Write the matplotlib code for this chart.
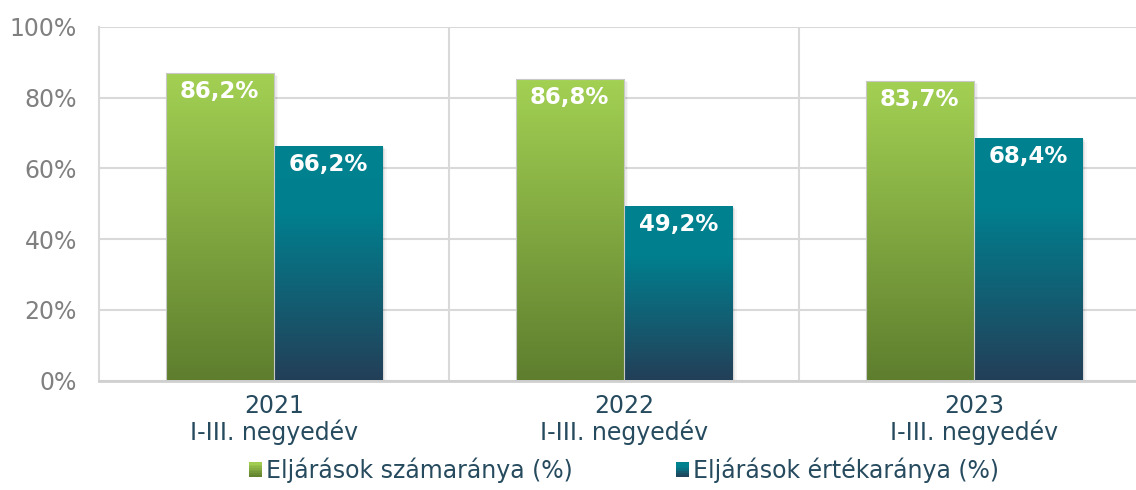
import numpy as np
import matplotlib
matplotlib.use("Agg")
import matplotlib.pyplot as plt
from matplotlib.patches import Rectangle
from matplotlib.colors import LinearSegmentedColormap
from matplotlib.legend_handler import HandlerBase

categories = ["2021\nI-III. negyedév", "2022\nI-III. negyedév", "2023\nI-III. negyedév"]
series_names = ["Eljárások számaránya (%)", "Eljárások értékaránya (%)"]
# bar heights as drawn in the picture
szamarany = [87.0, 85.2, 84.8]
ertekarany = [66.3, 49.3, 68.5]
# labels as printed on the bars
value_labels = [["86,2%", "86,8%", "83,7%"], ["66,2%", "49,2%", "68,4%"]]
yticks = [0, 20, 40, 60, 80, 100]
ytick_labels = ["0%", "20%", "40%", "60%", "80%", "100%"]

plt.rcParams['font.family'] = ['DejaVu Sans']

green_stops = [(0.0, "#5e7e2e"), (1.0, "#a3d153")]
teal_stops = [(0.0, "#233f58"), (0.72, "#00808f"), (1.0, "#00828f")]
cmaps = [LinearSegmentedColormap.from_list("g", green_stops),
         LinearSegmentedColormap.from_list("t", teal_stops)]

fig = plt.figure(figsize=(11.36, 4.9), dpi=100)
ax = fig.add_axes([99/1136, 1 - 380.5/490, 1050/1136, 353.5/490])

x = np.arange(len(categories))
bw = 0.31
offsets = [-bw/2, bw/2]
grad = np.linspace(0, 1, 256).reshape(-1, 1)

for si, vals in enumerate([szamarany, ertekarany]):
    bars = ax.bar(x + offsets[si], vals, width=bw, color="none", edgecolor="none", zorder=3)
    for b, lab in zip(bars, value_labels[si]):
        x0, w, h = b.get_x(), b.get_width(), b.get_height()
        for k, a in enumerate([0.07, 0.05, 0.03]):
            sh = Rectangle((x0 + 0.004 * (k + 1), 0), w, h - 0.3 * (k + 1),
                           facecolor="#000000", alpha=a, edgecolor="none", zorder=2)
            ax.add_patch(sh)
        im = ax.imshow(grad, extent=[x0, x0 + w, 0, h], origin="lower", aspect="auto",
                       cmap=cmaps[si], zorder=3, interpolation="bilinear")
        im.set_clip_path(b)
        if si == 0:
            ax.add_patch(Rectangle((x0, 0), w, h, facecolor="none", edgecolor="#c8c8c8",
                                   linewidth=0.8, zorder=3.5))
        ax.annotate(lab, (x0 + w/2, h), xytext=(0, -5), textcoords="offset points",
                    ha="center", va="top", color="white", fontsize=16.5,
                    fontweight="bold", zorder=5)

ax.set_xlim(-0.5, 2.5)
ax.set_ylim(0, 100)
ax.set_yticks(yticks)
ax.set_yticklabels(ytick_labels)
ax.set_xticks(x)
ax.set_xticklabels(categories, linespacing=1.05)
ax.tick_params(axis="y", length=0, pad=16, labelsize=17, labelcolor="#808080")
ax.tick_params(axis="x", length=0, pad=10, labelsize=17, labelcolor="#264a5e")
ax.yaxis.grid(True, color="#d9d9d9", linewidth=1.5, zorder=0)
ax.set_axisbelow(True)
for xv in [0.5, 1.5]:
    ax.axvline(xv, color="#d9d9d9", linewidth=1.5, zorder=0)
for s in ["top", "right"]:
    ax.spines[s].set_visible(False)
ax.spines["left"].set_color("#d9d9d9")
ax.spines["left"].set_linewidth(1.5)
ax.spines["bottom"].set_color("#d0d0d0")
ax.spines["bottom"].set_linewidth(2)


class GradHandler(HandlerBase):
    def __init__(self, cmap):
        super().__init__()
        self.cmap = cmap

    def create_artists(self, legend, orig_handle, xdescent, ydescent, width, height,
                       fontsize, trans):
        n = 8
        arts = []
        for i in range(n):
            c = self.cmap((i + 0.5) / n)
            r = Rectangle((-xdescent, -ydescent + height * i / n), width, height / n + 0.3,
                          facecolor=c, edgecolor="none", transform=trans)
            arts.append(r)
        return arts


h1 = Rectangle((0, 0), 1, 1)
h2 = Rectangle((0, 0), 1, 1)
leg = ax.legend([h1, h2], series_names, loc="upper center",
                bbox_to_anchor=(0.5, -0.218), ncol=2, frameon=False, fontsize=17,
                handlelength=0.52, handleheight=0.52, handletextpad=0.17,
                columnspacing=4.4, borderaxespad=0, borderpad=0,
                handler_map={h1: GradHandler(cmaps[0]), h2: GradHandler(cmaps[1])})
for t in leg.get_texts():
    t.set_color("#264a5e")

fig.savefig("out.png", dpi=100)
